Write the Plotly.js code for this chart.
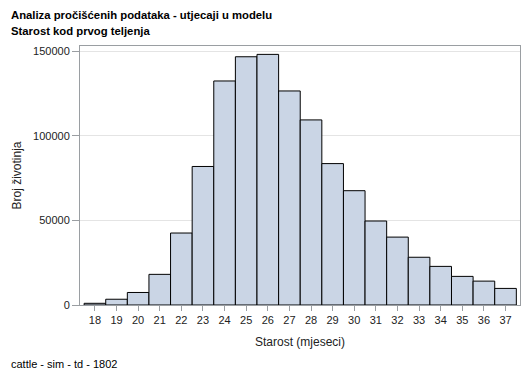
<!DOCTYPE html>
<html>
<head>
<meta charset="utf-8">
<script src="https://cdn.plot.ly/plotly-3.0.1.min.js"></script>
<style>html,body{margin:0;padding:0;background:#fff;}#chart{width:529px;height:378px;}</style>
</head>
<body>
<div id="chart"></div>
<script>
const ages = [18,19,20,21,22,23,24,25,26,27,28,29,30,31,32,33,34,35,36,37];
const counts = [1000,3400,7400,18100,42500,81800,132300,146600,148000,126400,109300,83500,67500,49600,40100,28200,22800,16900,14100,9800];
const titleLines = ["Analiza pročišćenih podataka - utjecaji u modelu","Starost kod prvog teljenja"];
const footnote = "cattle - sim - td - 1802";
const xTitle = "Starost (mjeseci)";
const yTitle = "Broj životinja";
const yTicks = [0,50000,100000,150000];

const font = "Liberation Sans, Arial, sans-serif";
const trace = {
  type: "bar", x: ages, y: counts, width: 1,
  marker: {color: "#CAD5E5", line: {color: "#000000", width: 1}},
  hoverinfo: "x+y"
};
const layout = {
  width: 529, height: 378,
  margin: {l: 80, r: 9, t: 46, b: 73},
  paper_bgcolor: "#fff", plot_bgcolor: "#fff",
  showlegend: false,
  bargap: 0,
  font: {family: font, size: 11, color: "#222"},
  xaxis: {
    range: [17.31, 37.67], tickmode: "array", tickvals: ages, ticktext: ages.map(String),
    ticks: "outside", ticklen: 5, tickcolor: "#9a9ea2", tickwidth: 1,
    showline: true, linecolor: "#9a9ea2", linewidth: 1, mirror: true,
    showgrid: false, zeroline: false,
    tickfont: {family: font, size: 11, color: "#222"},
    title: {text: xTitle, font: {family: font, size: 12, color: "#222"}, standoff: 12}
  },
  yaxis: {
    range: [0, 152950], tickmode: "array", tickvals: yTicks, ticktext: yTicks.map(String),
    ticks: "outside", ticklen: 7, tickcolor: "#9a9ea2", tickwidth: 1,
    showline: true, linecolor: "#9a9ea2", linewidth: 1, mirror: true,
    showgrid: true, gridcolor: "#e4e4e4", zeroline: false,
    tickfont: {family: font, size: 11, color: "#222"},
    title: {text: yTitle, font: {family: font, size: 12, color: "#222"}, standoff: 8}
  },
  annotations: [
    {xref: "paper", yref: "paper", x: -80/440, y: 1 + (46-15)/259, xanchor: "left", yanchor: "middle",
     text: "<b>" + titleLines[0] + "</b>", showarrow: false, font: {family: font, size: 11.3, color: "#000"}, xshift: 9},
    {xref: "paper", yref: "paper", x: -80/440, y: 1 + (46-31)/259, xanchor: "left", yanchor: "middle",
     text: "<b>" + titleLines[1] + "</b>", showarrow: false, font: {family: font, size: 11.3, color: "#000"}, xshift: 9},
    {xref: "paper", yref: "paper", x: -80/440, y: -(364-305)/259, xanchor: "left", yanchor: "middle",
     text: footnote, showarrow: false, font: {family: font, size: 11, color: "#000"}, xshift: 9}
  ]
};
Plotly.newPlot("chart", [trace], layout, {displayModeBar: false, staticPlot: true});
</script>
</body>
</html>
